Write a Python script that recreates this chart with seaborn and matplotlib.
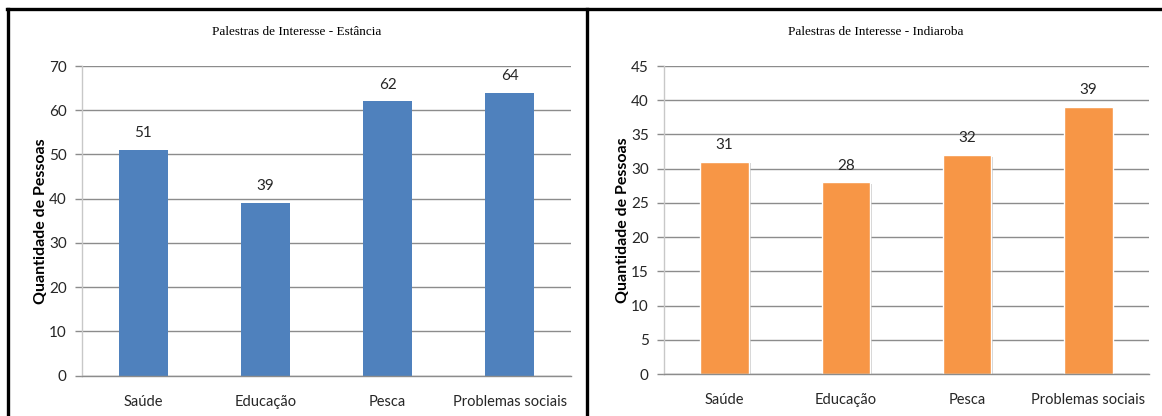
import matplotlib
matplotlib.use("Agg")
import matplotlib.pyplot as plt
import matplotlib.patheffects as pe
from matplotlib.lines import Line2D
import seaborn as sns
import pandas as pd

# Data
categorias = ["Saúde", "Educação", "Pesca", "Problemas sociais"]
estancia = [51, 39, 62, 64]
indiaroba = [31, 28, 32, 39]
titulo_estancia = "Palestras de Interesse - Estância"
titulo_indiaroba = "Palestras de Interesse - Indiaroba"
rotulo_y = "Quantidade de Pessoas"

AZUL = "#4F81BD"
LARANJA = "#F79646"
GRADE = "#8c8c8c"
TEXTO = "#262626"

sns.set_theme(style="white")
plt.rcParams["font.family"] = ["Lato", "DejaVu Sans"]

W, H = 1162, 416
fig = plt.figure(figsize=(W / 100, H / 100), dpi=100)
fig.patch.set_facecolor("white")


def px_axes(x0, x1, ytop, ybot):
    return fig.add_axes([x0 / W, 1 - ybot / H, (x1 - x0) / W, (ybot - ytop) / H])


def painel(ax, valores, cor, ymax, passo, borda, sombra):
    df = pd.DataFrame({"categoria": categorias, "valor": valores})
    sns.barplot(data=df, x="categoria", y="valor", color=cor, saturation=1,
                width=0.4, ax=ax, edgecolor=borda,
                linewidth=1.0 if borda != "none" else 0)
    if sombra:
        for p in ax.patches:
            p.set_path_effects([pe.SimplePatchShadow(offset=(1.2, -1.2),
                                                     shadow_rgbFace="#b0b0b0",
                                                     alpha=0.6),
                                pe.Normal()])
    ax.bar_label(ax.containers[0], labels=[str(v) for v in valores],
                 padding=7, fontsize=11, color=TEXTO)
    ax.set_ylim(0, ymax)
    ax.set_xlim(-0.5, len(categorias) - 0.5)
    ax.set_yticks(range(0, ymax + 1, passo))
    ax.yaxis.grid(True, color=GRADE, linewidth=1)
    ax.set_axisbelow(True)
    for s in ["top", "right"]:
        ax.spines[s].set_visible(False)
    ax.spines["left"].set_color("#c8c8c8")
    ax.spines["left"].set_linewidth(1)
    ax.spines["bottom"].set_color(GRADE)
    ax.spines["bottom"].set_linewidth(1)
    ax.tick_params(axis="y", length=5, color=GRADE, width=1, pad=6,
                   labelsize=11, labelcolor=TEXTO, left=True)
    ax.tick_params(axis="x", length=0, pad=14, labelsize=10.5,
                   labelcolor=TEXTO)
    ax.set_xlabel("")
    ax.set_ylabel(rotulo_y, fontsize=11.5, fontweight="bold", color="black",
                  labelpad=1)


ax1 = px_axes(82, 571, 66, 375.7)
painel(ax1, estancia, AZUL, 70, 10, "none", False)
ax2 = px_axes(664, 1149, 66, 374)
painel(ax2, indiaroba, LARANJA, 45, 5, "white", True)

# Chart titles, centred over each framed panel
fig.text(297 / W, 1 - 32 / H, titulo_estancia, ha="center", va="center",
         fontsize=9.5, family="Liberation Serif", color="black")
fig.text(876 / W, 1 - 32 / H, titulo_indiaroba, ha="center", va="center",
         fontsize=9.5, family="Liberation Serif", color="black")

# Panel frames
frame_kw = dict(color="black", linewidth=2.4, transform=fig.transFigure,
                solid_capstyle="projecting")
fig.add_artist(Line2D([7 / W, 1.0], [1 - 8.5 / H, 1 - 8.5 / H], **frame_kw))
fig.add_artist(Line2D([7.5 / W, 7.5 / W], [0, 1 - 8.5 / H], **frame_kw))
fig.add_artist(Line2D([587 / W, 587 / W], [0, 1 - 8.5 / H], **frame_kw))

fig.savefig("out.png", dpi=100, facecolor="white")
